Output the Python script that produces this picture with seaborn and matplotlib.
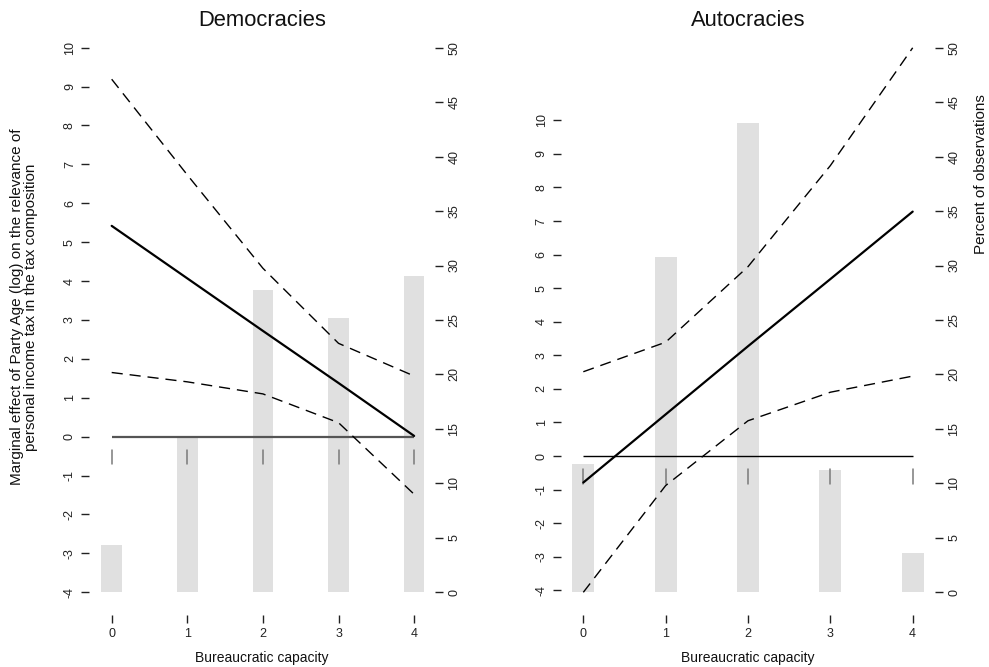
import numpy as np
import pandas as pd
import matplotlib
matplotlib.use("Agg")
import matplotlib.pyplot as plt
import seaborn as sns

sns.set_theme(style="white")
plt.rcParams["font.family"] = ["Liberation Sans", "DejaVu Sans"]

# Bureaucratic capacity levels
capacity = [0, 1, 2, 3, 4]

# Democracies: marginal effect and 95% bounds
dem_est = [5.42, 4.07, 2.72, 1.38, 0.02]
dem_upper = [9.19, 6.73, 4.33, 2.40, 1.56]
dem_lower = [1.65, 1.41, 1.10, 0.36, -1.48]
dem_pct = [4.3, 14.3, 27.8, 25.2, 29.0]

# Autocracies: marginal effect and 95% bounds
aut_est = [-0.79, 1.24, 3.27, 5.27, 7.28]
aut_upper = [2.51, 3.39, 5.64, 8.65, 12.16]
aut_lower = [-4.06, -0.88, 1.05, 1.90, 2.38]
aut_pct = [11.8, 30.8, 43.1, 11.2, 3.6]

y_ticks_dem = list(range(-4, 11))
y_ticks_aut = list(range(-4, 11))
pct_ticks = list(range(0, 51, 5))

W, H = 989, 667
fig = plt.figure(figsize=(W / 100, H / 100), dpi=100)
fig.patch.set_facecolor("white")


def px_axes(left, right, top, bottom):
    return fig.add_axes([left / W, 1 - bottom / H, (right - left) / W, (bottom - top) / H])


BAR_COLOR = "#e0e0e0"
RUG_COLOR = "#7a7a7a"
TICK_FS = 9
TEXT = "#111111"


def panel(ax, est, upper, lower, pct, xlim, ylim, yticks, rug, zero_color, zero_lw, title):
    ax2 = ax.twinx()
    df = pd.DataFrame({"capacity": capacity, "pct": pct})
    sns.barplot(data=df, x="capacity", y="pct", ax=ax2, color=BAR_COLOR,
                saturation=1, width=0.27, linewidth=0)
    ax.set_zorder(ax2.get_zorder() + 1)
    ax.patch.set_visible(False)

    # reference line at zero and rug marks at each level
    ax.plot([capacity[0], capacity[-1]], [0, 0], color=zero_color, lw=zero_lw,
            solid_capstyle="butt")
    for c in capacity:
        ax.plot([c, c], rug, color=RUG_COLOR, lw=1.1)

    sns.lineplot(x=capacity, y=upper, ax=ax, color="black", lw=1.0,
                 linestyle=(0, (8, 5)))
    sns.lineplot(x=capacity, y=lower, ax=ax, color="black", lw=1.0,
                 linestyle=(0, (8, 5)))
    sns.lineplot(x=capacity, y=est, ax=ax, color="black", lw=1.6)

    ax.set_xlim(*xlim)
    ax.set_ylim(*ylim)
    ax2.set_ylim(-2.084, 50.71)
    ax.set_xticks(capacity)
    ax.set_xticklabels([str(c) for c in capacity])
    ax.set_yticks(yticks)
    ax.set_yticklabels([str(t) for t in yticks])
    ax2.set_yticks(pct_ticks)
    ax2.set_yticklabels([str(t) for t in pct_ticks])
    ax2.set_xlabel("")
    ax2.set_ylabel("")

    for a in (ax, ax2):
        for s in a.spines.values():
            s.set_visible(False)
        a.grid(False)
    ax.tick_params(axis="both", direction="out", length=5.6, width=1.0,
                   color="#222222", labelsize=TICK_FS, labelcolor="#222222",
                   left=True, bottom=True, pad=4)
    ax.tick_params(axis="y", labelrotation=90)
    ax2.tick_params(axis="y", direction="out", length=5.6, width=1.0,
                    color="#222222", labelsize=TICK_FS, labelcolor="#222222",
                    right=True, pad=4, labelrotation=90)
    for lab in ax.get_yticklabels() + ax2.get_yticklabels():
        lab.set_va("center")

    ax.set_xlabel("Bureaucratic capacity", fontsize=10, color=TEXT)
    ax.xaxis.set_label_coords(0.5, -0.0743)
    ax.xaxis.label.set_va("center")
    ax.set_title(title, fontsize=15.8, color=TEXT, pad=10)
    return ax2


axL = px_axes(89.3, 435, 40, 615)
axL2 = panel(axL, dem_est, dem_upper, dem_lower, dem_pct,
             (-0.296, 4.276), (-4.584, 10.198), y_ticks_dem,
             (-0.33, -0.70), "#555555", 1.6, "Democracies")
axL.set_ylabel("Marginal effect of Party Age (log) on the relevance of\n"
               "personal income tax in the tax composition",
               fontsize=11, color=TEXT, linespacing=0.95)
axL.yaxis.label.set_va("center")
axL.yaxis.set_label_coords((24 - 89.3) / 345.7, 0.5 - (307 - 327.5) / 575)

axR = px_axes(561, 935, 40, 615)
axR2 = panel(axR, aut_est, aut_upper, aut_lower, aut_pct,
             (-0.271, 4.271), (-4.736, 12.392), y_ticks_aut,
             (-0.40, -0.83), "black", 1.0, "Autocracies")
axR2.set_ylabel("Percent of observations", fontsize=11, color=TEXT)
axR2.yaxis.set_label_position("right")
axR2.yaxis.label.set_rotation(90)
axR2.yaxis.label.set_va("center")
axR2.yaxis.set_label_coords(1 + (981 - 935) / 374, 0.5 + (327.5 - 174) / 575)

fig.savefig("out.png", dpi=100, facecolor="white")
